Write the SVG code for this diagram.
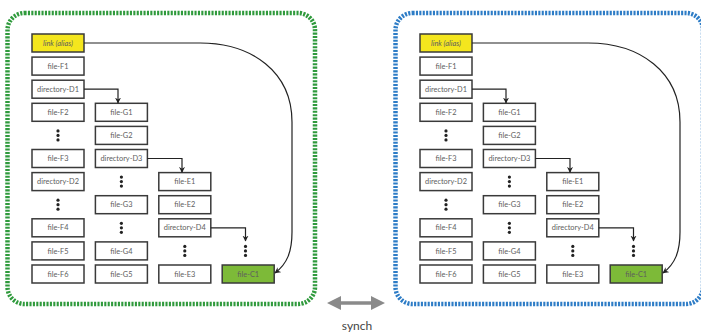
<svg xmlns="http://www.w3.org/2000/svg" width="701" height="335" viewBox="0 0 701 335">
  <defs>
    <marker id="arrow" viewBox="0 0 10 10" refX="9" refY="5" markerWidth="6" markerHeight="7" markerUnits="userSpaceOnUse" orient="auto">
      <path d="M0,0 L10,5 L0,10 L3,5 Z" fill="#222"/>
    </marker>
    <g id="dots">
      <circle cx="0" cy="-4.5" r="1.6"/>
      <circle cx="0" cy="0" r="1.6"/>
      <circle cx="0" cy="4.5" r="1.6"/>
    </g>
  </defs>
  <style>
    .frame { fill: none; stroke-width: 4.5; stroke-dasharray: 2.1 1.3; }
    .green { stroke: #2f9a3c; }
    .blue { stroke: #2d7cc6; }
    .box { fill: #fff; stroke: #3a3a3a; stroke-width: 1.5; }
    .alias { fill: #f4e61e; }
    .target { fill: #7dba38; }
    .lbl { font-family: "Lato", "Open Sans", sans-serif; font-size: 7.4px; fill: #5e5e5e; text-anchor: middle; }
    .it { font-style: italic; }
    .dots { fill: #222; }
    .conn { fill: none; stroke: #222; stroke-width: 1.2; }
    .synch { fill: #8a8a8a; }
    .synch-lbl { font-family: "Lato", "Open Sans", sans-serif; font-size: 12px; fill: #444; text-anchor: middle; }
  </style>

  <rect x="0" y="0" width="701" height="335" fill="#fff"/>

  <!-- left volume -->
  <g id="left">
    <rect class="frame green" x="7.5" y="13" width="307.5" height="291" rx="17"/>
    <g id="L-link"><rect class="box alias" x="32" y="34" width="52" height="18"/><text class="lbl it" x="58" y="45.6">link (alias)</text></g>
    <g id="L-file-F1"><rect class="box" x="32" y="57.1" width="52" height="18"/><text class="lbl" x="58" y="68.7">file-F1</text></g>
    <g id="L-directory-D1"><rect class="box" x="32" y="80.2" width="52" height="18"/><text class="lbl" x="58" y="91.8">directory-D1</text></g>
    <g id="L-file-F2"><rect class="box" x="32" y="103.3" width="52" height="18"/><text class="lbl" x="58" y="114.9">file-F2</text></g>
    <g id="L-dots-1"><use href="#dots" class="dots" x="58" y="135.4"/></g>
    <g id="L-file-F3"><rect class="box" x="32" y="149.5" width="52" height="18"/><text class="lbl" x="58" y="161.1">file-F3</text></g>
    <g id="L-directory-D2"><rect class="box" x="32" y="172.6" width="52" height="18"/><text class="lbl" x="58" y="184.2">directory-D2</text></g>
    <g id="L-dots-2"><use href="#dots" class="dots" x="58" y="204.7"/></g>
    <g id="L-file-F4"><rect class="box" x="32" y="218.8" width="52" height="18"/><text class="lbl" x="58" y="230.4">file-F4</text></g>
    <g id="L-file-F5"><rect class="box" x="32" y="241.9" width="52" height="18"/><text class="lbl" x="58" y="253.5">file-F5</text></g>
    <g id="L-file-F6"><rect class="box" x="32" y="265" width="52" height="18"/><text class="lbl" x="58" y="276.6">file-F6</text></g>

    <g id="L-file-G1"><rect class="box" x="95.4" y="103.3" width="52" height="18"/><text class="lbl" x="121.4" y="114.9">file-G1</text></g>
    <g id="L-file-G2"><rect class="box" x="95.4" y="126.4" width="52" height="18"/><text class="lbl" x="121.4" y="138">file-G2</text></g>
    <g id="L-directory-D3"><rect class="box" x="95.4" y="149.5" width="52" height="18"/><text class="lbl" x="121.4" y="161.1">directory-D3</text></g>
    <g id="L-dots-3"><use href="#dots" class="dots" x="121.4" y="181.6"/></g>
    <g id="L-file-G3"><rect class="box" x="95.4" y="195.7" width="52" height="18"/><text class="lbl" x="121.4" y="207.3">file-G3</text></g>
    <g id="L-dots-4"><use href="#dots" class="dots" x="121.4" y="227.8"/></g>
    <g id="L-file-G4"><rect class="box" x="95.4" y="241.9" width="52" height="18"/><text class="lbl" x="121.4" y="253.5">file-G4</text></g>
    <g id="L-file-G5"><rect class="box" x="95.4" y="265" width="52" height="18"/><text class="lbl" x="121.4" y="276.6">file-G5</text></g>

    <g id="L-file-E1"><rect class="box" x="158.8" y="172.6" width="52" height="18"/><text class="lbl" x="184.8" y="184.2">file-E1</text></g>
    <g id="L-file-E2"><rect class="box" x="158.8" y="195.7" width="52" height="18"/><text class="lbl" x="184.8" y="207.3">file-E2</text></g>
    <g id="L-directory-D4"><rect class="box" x="158.8" y="218.8" width="52" height="18"/><text class="lbl" x="184.8" y="230.4">directory-D4</text></g>
    <g id="L-dots-5"><use href="#dots" class="dots" x="184.8" y="250.9"/></g>
    <g id="L-file-E3"><rect class="box" x="158.8" y="265" width="52" height="18"/><text class="lbl" x="184.8" y="276.6">file-E3</text></g>

    <g id="L-dots-6"><use href="#dots" class="dots" x="245.5" y="250.9"/></g>
    <g id="L-file-C1"><rect class="box target" x="222.2" y="265" width="52" height="18"/><text class="lbl" x="248.2" y="276.6">file-C1</text></g>

    <g id="L-connectors">
      <path class="conn" d="M84,89.2 H118 V103" marker-end="url(#arrow)"/>
      <path class="conn" d="M147.4,158.5 H182 V172.3" marker-end="url(#arrow)"/>
      <path class="conn" d="M210.8,227.8 H245.5 V241" marker-end="url(#arrow)"/>
      <path class="conn" d="M84,43 H200 C252,43 292,72 292,122 V232 C292,252 287,264 275,273" marker-end="url(#arrow)"/>
    </g>
  </g>

  <!-- right volume -->
  <g id="right" transform="translate(388,0)">
    <rect class="frame blue" x="7.5" y="13" width="307.5" height="291" rx="17"/>
    <g id="R-link"><rect class="box alias" x="32" y="34" width="52" height="18"/><text class="lbl it" x="58" y="45.6">link (alias)</text></g>
    <g id="R-file-F1"><rect class="box" x="32" y="57.1" width="52" height="18"/><text class="lbl" x="58" y="68.7">file-F1</text></g>
    <g id="R-directory-D1"><rect class="box" x="32" y="80.2" width="52" height="18"/><text class="lbl" x="58" y="91.8">directory-D1</text></g>
    <g id="R-file-F2"><rect class="box" x="32" y="103.3" width="52" height="18"/><text class="lbl" x="58" y="114.9">file-F2</text></g>
    <g id="R-dots-1"><use href="#dots" class="dots" x="58" y="135.4"/></g>
    <g id="R-file-F3"><rect class="box" x="32" y="149.5" width="52" height="18"/><text class="lbl" x="58" y="161.1">file-F3</text></g>
    <g id="R-directory-D2"><rect class="box" x="32" y="172.6" width="52" height="18"/><text class="lbl" x="58" y="184.2">directory-D2</text></g>
    <g id="R-dots-2"><use href="#dots" class="dots" x="58" y="204.7"/></g>
    <g id="R-file-F4"><rect class="box" x="32" y="218.8" width="52" height="18"/><text class="lbl" x="58" y="230.4">file-F4</text></g>
    <g id="R-file-F5"><rect class="box" x="32" y="241.9" width="52" height="18"/><text class="lbl" x="58" y="253.5">file-F5</text></g>
    <g id="R-file-F6"><rect class="box" x="32" y="265" width="52" height="18"/><text class="lbl" x="58" y="276.6">file-F6</text></g>

    <g id="R-file-G1"><rect class="box" x="95.4" y="103.3" width="52" height="18"/><text class="lbl" x="121.4" y="114.9">file-G1</text></g>
    <g id="R-file-G2"><rect class="box" x="95.4" y="126.4" width="52" height="18"/><text class="lbl" x="121.4" y="138">file-G2</text></g>
    <g id="R-directory-D3"><rect class="box" x="95.4" y="149.5" width="52" height="18"/><text class="lbl" x="121.4" y="161.1">directory-D3</text></g>
    <g id="R-dots-3"><use href="#dots" class="dots" x="121.4" y="181.6"/></g>
    <g id="R-file-G3"><rect class="box" x="95.4" y="195.7" width="52" height="18"/><text class="lbl" x="121.4" y="207.3">file-G3</text></g>
    <g id="R-dots-4"><use href="#dots" class="dots" x="121.4" y="227.8"/></g>
    <g id="R-file-G4"><rect class="box" x="95.4" y="241.9" width="52" height="18"/><text class="lbl" x="121.4" y="253.5">file-G4</text></g>
    <g id="R-file-G5"><rect class="box" x="95.4" y="265" width="52" height="18"/><text class="lbl" x="121.4" y="276.6">file-G5</text></g>

    <g id="R-file-E1"><rect class="box" x="158.8" y="172.6" width="52" height="18"/><text class="lbl" x="184.8" y="184.2">file-E1</text></g>
    <g id="R-file-E2"><rect class="box" x="158.8" y="195.7" width="52" height="18"/><text class="lbl" x="184.8" y="207.3">file-E2</text></g>
    <g id="R-directory-D4"><rect class="box" x="158.8" y="218.8" width="52" height="18"/><text class="lbl" x="184.8" y="230.4">directory-D4</text></g>
    <g id="R-dots-5"><use href="#dots" class="dots" x="184.8" y="250.9"/></g>
    <g id="R-file-E3"><rect class="box" x="158.8" y="265" width="52" height="18"/><text class="lbl" x="184.8" y="276.6">file-E3</text></g>

    <g id="R-dots-6"><use href="#dots" class="dots" x="245.5" y="250.9"/></g>
    <g id="R-file-C1"><rect class="box target" x="222.2" y="265" width="52" height="18"/><text class="lbl" x="248.2" y="276.6">file-C1</text></g>

    <g id="R-connectors">
      <path class="conn" d="M84,89.2 H118 V103" marker-end="url(#arrow)"/>
      <path class="conn" d="M147.4,158.5 H182 V172.3" marker-end="url(#arrow)"/>
      <path class="conn" d="M210.8,227.8 H245.5 V241" marker-end="url(#arrow)"/>
      <path class="conn" d="M84,43 H200 C252,43 292,72 292,122 V232 C292,252 287,264 275,273" marker-end="url(#arrow)"/>
    </g>
  </g>

  <!-- synchronisation between the two volumes -->
  <g id="synch">
    <polygon class="synch" points="327,303 341,296 341,301.3 371,301.3 371,296 385,303 371,310 371,304.7 341,304.7 341,310"/>
    <text class="synch-lbl" x="357" y="330">synch</text>
  </g>
</svg>
